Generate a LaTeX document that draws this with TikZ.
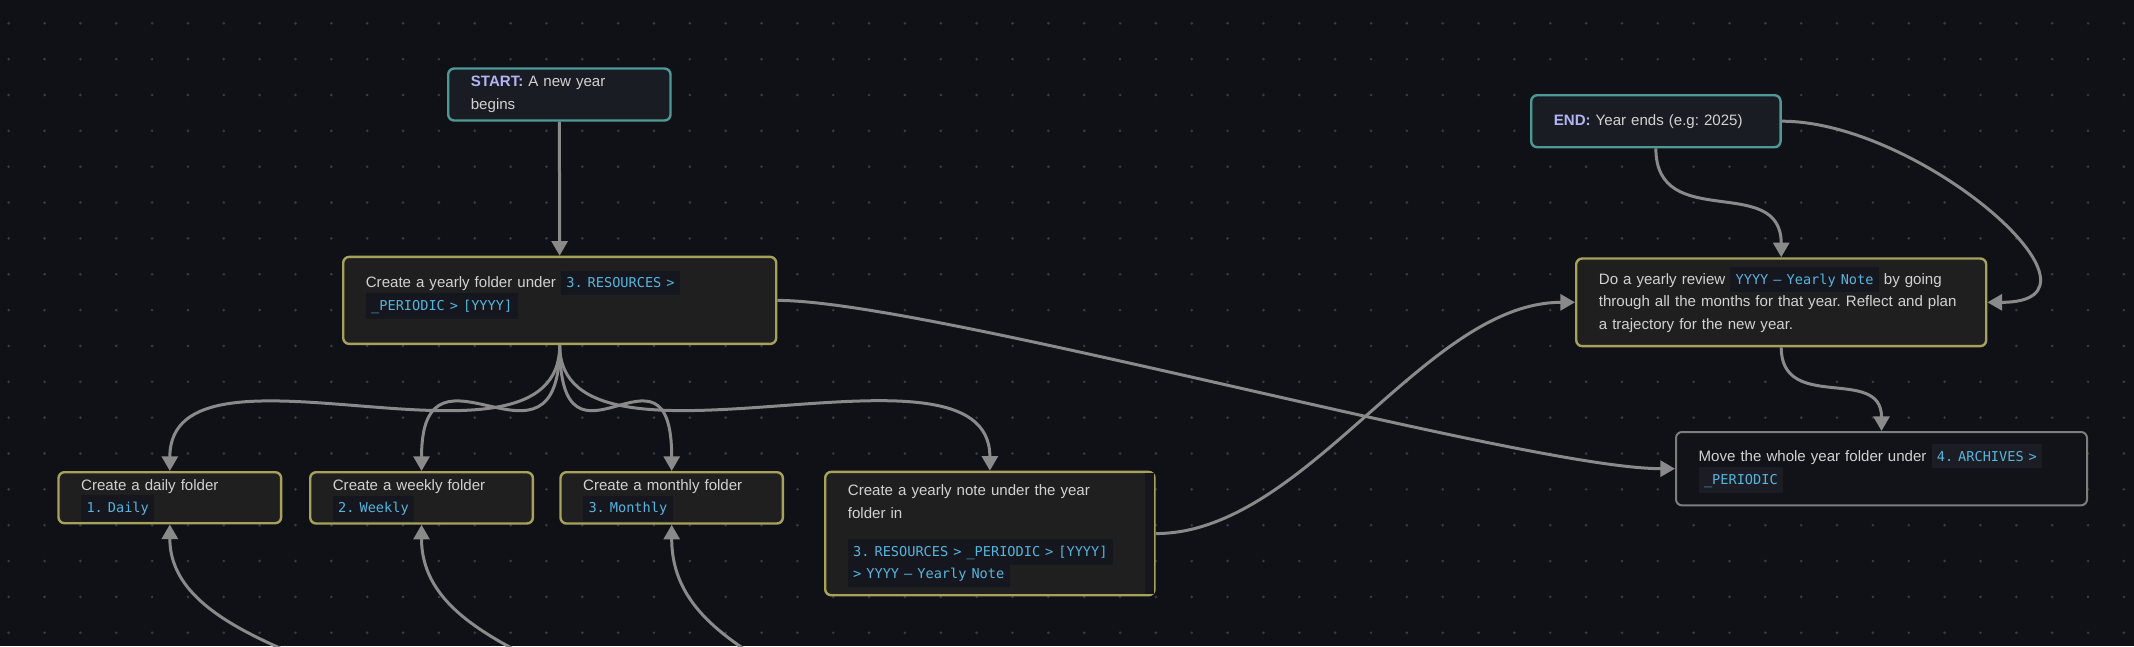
\documentclass[tikz,border=0pt]{standalone}
\usepackage{fontspec}
\setmainfont{Liberation Sans}
\setmonofont{DejaVu Sans Mono}
\usetikzlibrary{arrows.meta}

\definecolor{canvasbg}{RGB}{16,16,23}
\definecolor{dotcol}{RGB}{58,58,64}
\definecolor{cardfill}{RGB}{31,31,31}
\definecolor{cardline}{RGB}{166,162,92}
\definecolor{termfill}{RGB}{25,29,35}
\definecolor{termline}{RGB}{78,152,150}
\definecolor{plainfill}{RGB}{18,18,25}
\definecolor{plainline}{RGB}{125,125,125}
\definecolor{txtcol}{RGB}{210,210,210}
\definecolor{labelcol}{RGB}{180,180,245}
\definecolor{codefg}{RGB}{84,182,222}
\definecolor{codebg}{RGB}{22,22,30}
\definecolor{codebgplain}{RGB}{28,28,36}
\definecolor{scrollcol}{RGB}{22,22,28}
\definecolor{flowcol}{RGB}{138,138,138}

\newcommand{\cardfont}{\fontsize{11.3}{16.9}\selectfont\frenchspacing\lineskiplimit=-\maxdimen}
\newcommand{\code}[2][codebg]{{\setlength{\fboxsep}{4pt}\raisebox{0pt}[9pt][2.5pt]{\colorbox{#1}{\rule[-1pt]{0pt}{10pt}\textcolor{codefg}{\fontsize{10.2}{16.9}\ttfamily #2}}}}}

\begin{document}
\begin{tikzpicture}[x=0.75pt, y=-0.75pt,
    card/.style={draw=cardline, line width=1.8pt, fill=cardfill, rounded corners=4.5pt, anchor=north west,
      inner xsep=17pt, inner ysep=2pt, align=left, text=txtcol, font=\cardfont},
    term/.style={card, draw=termline, fill=termfill},
    plain/.style={card, draw=plainline, line width=1.5pt, fill=plainfill},
    flow/.style={draw=flowcol, line width=2.25pt, -{Triangle[length=11pt 0 0, width=12pt 0 0]}}]

    % canvas with dot grid
    \useasboundingbox (0,0) rectangle (2134,646);
    \clip (0,0) rectangle (2134,646);
    \fill[canvasbg] (0,0) rectangle (2134,646);
    \foreach \i in {0,...,59}
      \foreach \j in {0,...,17}
        \fill[dotcol] (8.7+\i*35.85, 23.3+\j*35.85) circle (1.1pt);

    % start and end of the year
    \node[term, text width=132.75pt, minimum height=39pt] (start) at (447,67.3)
      {\textbf{\textcolor{labelcol}{START:}} A new year\\begins};
    \node[term, text width=153pt, minimum height=39pt] (end) at (1530,94)
      {\textbf{\textcolor{labelcol}{END:}} Year ends (e.g: 2025)};

    % yearly folder and its sub folders
    \node[card, text width=290.75pt, minimum height=65.25pt] (yfolder) at (342,255.7)
      {Create a yearly folder under \code{3. RESOURCES >}\\\code{\_PERIODIC > [YYYY]}\\[-6pt]\mbox{}};
    \node[card, text width=133pt, minimum height=38.25pt] (daily) at (57.3,471)
      {Create a daily folder\\\code{1. Daily}};
    \node[card, text width=133pt, minimum height=38.5pt] (weekly) at (309,471)
      {Create a weekly folder\\\code{2. Weekly}};
    \node[card, text width=132.8pt, minimum height=38.5pt] (monthly) at (559.3,471)
      {Create a monthly folder\\\code{3. Monthly}};
    \node[card, text width=213pt, minimum height=92.5pt] (note) at (824,470.7)
      {Create a yearly note under the year\\folder in\\[11.5pt]\code{3. RESOURCES > \_PERIODIC > [YYYY]}\\\code{> YYYY – Yearly Note}};
    \fill[scrollcol] ([shift={(-8pt,-2pt)}]note.north east) rectangle ([shift={(-1.5pt,2pt)}]note.south east);

    % review and archive
    \node[card, text width=273.5pt, minimum height=65.75pt] (review) at (1575,257.3)
      {Do a yearly review \code{YYYY – Yearly Note} by going\\through all the months for that year. Reflect and plan\\a trajectory for the new year.};
    \node[plain, text width=274.25pt, minimum height=55pt] (move) at (1675,431)
      {Move the whole year folder under \code[codebgplain]{4. ARCHIVES >}\\\code[codebgplain]{\_PERIODIC}};

    % edges coming in from below the frame
    \coordinate (dailyin) at (515,820);
    \coordinate (weeklyin) at (705,820);
    \coordinate (monthlyin) at (895,820);

    % connectors
    \draw[flow] (start) -- (yfolder);
    \draw[flow] (yfolder.south) .. controls +(0,150) and +(0,-150) .. (daily.north);
    \draw[flow] (yfolder.south) .. controls +(0,150) and +(0,-150) .. (weekly.north);
    \draw[flow] (yfolder.south) .. controls +(0,150) and +(0,-150) .. (monthly.north);
    \draw[flow] (yfolder.south) .. controls +(0,150) and +(0,-150) .. (note.north);
    \draw[flow] (yfolder.east) .. controls +(150,0) and +(-150,0) .. (move.west);
    \draw[flow] (note.east) .. controls +(150,0) and +(-150,0) .. (review.west);
    \draw[flow] (end.south) .. controls +(0,85) and +(0,-85) .. (review.north);
    \draw[flow] (end.east) .. controls +(140,0) and +(140,0) .. (review.east);
    \draw[flow] (review.south) .. controls +(0,66) and +(0,-66) .. (move.north);
    \draw[flow] (dailyin) .. controls +(0,-150) and +(0,150) .. (daily.south);
    \draw[flow] (weeklyin) .. controls +(0,-150) and +(0,150) .. (weekly.south);
    \draw[flow] (monthlyin) .. controls +(0,-150) and +(0,150) .. (monthly.south);

\end{tikzpicture}
\end{document}
